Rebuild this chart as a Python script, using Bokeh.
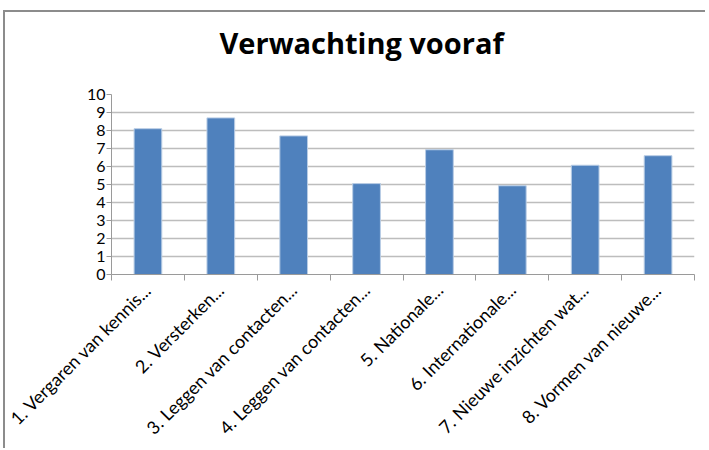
from bokeh.plotting import figure
from bokeh.models import FixedTicker, Range1d, Title
from bokeh.embed import file_html
from bokeh.resources import INLINE
import math

title_text = "Verwachting vooraf"
categories = [
    "1. Vergaren van kennis...",
    "2. Versterken...",
    "3. Leggen van contacten...",
    "4. Leggen van contacten...",
    "5. Nationale...",
    "6. Internationale...",
    "7. Nieuwe inzichten wat...",
    "8. Vormen van nieuwe...",
]
values = [8.1, 8.7, 7.7, 5.05, 6.93, 4.93, 6.07, 6.6]
y_ticks = list(range(0, 11))

n = len(categories)
centers = [i + 0.5 for i in range(n)]
bounds = list(range(n + 1))

FONT = "Lato"

p = figure(
    width=702, height=438,
    x_range=Range1d(0, n), y_range=Range1d(0, 10),
    output_backend="svg", toolbar_location=None,
    min_border_left=106, min_border_right=13,
    min_border_top=82, min_border_bottom=176,
    styles={"border-left": "2px solid #8c8c8c", "border-top": "2px solid #8c8c8c",
            "margin-left": "3px", "margin-top": "10px"},
)
p.outline_line_color = None
p.background_fill_color = "white"
p.border_fill_color = "white"

# spacer between title and plot area
p.add_layout(Title(text=" ", text_font_size="1px", standoff=20), "above")

p.title.text = title_text
p.title.align = "left"
p.title.offset = 108
p.title.standoff = 16
p.title.vertical_align = "top"
p.title.text_font = "Open Sans"
p.title.text_font_style = "bold"
p.title.text_font_size = "29px"
p.title.text_color = "#000000"

p.vbar(x=centers, top=values, width=0.38, bottom=0,
       fill_color="#4f81bd", line_color="#b9cde5", line_width=1)

# grid
p.xgrid.grid_line_color = None
p.ygrid.ticker = FixedTicker(ticks=y_ticks)
p.ygrid.grid_line_color = "#bdbdbd"
p.ygrid.grid_line_width = 1.5

# y axis
p.yaxis.ticker = FixedTicker(ticks=y_ticks)
p.yaxis.axis_line_color = "#9a9a9a"
p.yaxis.major_tick_line_color = "#9a9a9a"
p.yaxis.major_tick_out = 5
p.yaxis.major_tick_in = 0
p.yaxis.minor_tick_line_color = None
p.yaxis.major_label_standoff = 1
p.yaxis.major_label_text_font = FONT
p.yaxis.major_label_text_font_size = "16px"
p.yaxis.major_label_text_color = "#000000"

# x axis
p.xaxis.ticker = FixedTicker(ticks=centers, minor_ticks=bounds)
p.xaxis.major_label_overrides = {c: lab for c, lab in zip(centers, categories)}
p.xaxis.axis_line_color = "#9a9a9a"
p.xaxis.major_tick_line_color = None
p.xaxis.minor_tick_line_color = "#9a9a9a"
p.xaxis.minor_tick_out = 6
p.xaxis.minor_tick_in = 0
p.xaxis.major_label_orientation = math.pi / 4
p.xaxis.major_label_standoff = 6
p.xaxis.major_label_text_font = FONT
p.xaxis.major_label_text_font_size = "18px"
p.xaxis.major_label_text_color = "#000000"

open("out.html", "w").write(file_html(p, INLINE))
